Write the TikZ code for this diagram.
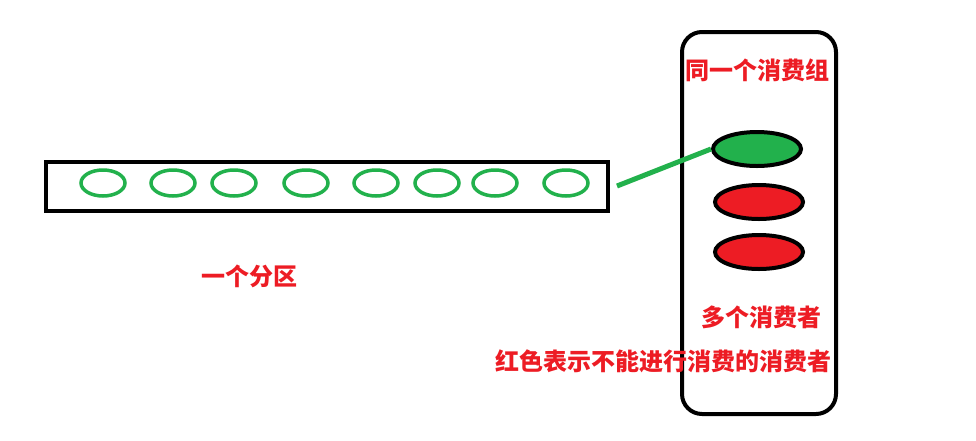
\documentclass[tikz,border=0pt]{standalone}
\usepackage{fontspec}
\newfontfamily\cjk{Noto Sans CJK SC}
\usetikzlibrary{shapes.geometric}
\definecolor{pred}{HTML}{ED1C24}
\definecolor{pgreen}{HTML}{22B14C}
\tikzset{
  msg/.style={ellipse, draw=pgreen, line width=3.5pt, minimum width=44pt, minimum height=26pt, inner sep=0pt},
  consumer/.style={ellipse, draw=black, line width=4pt, minimum width=88pt, minimum height=34pt, inner sep=0pt},
  lbl/.style={text=pred, font=\cjk\bfseries\fontsize{24pt}{26pt}\selectfont, inner sep=0pt, anchor=center}
}
\begin{document}
\begin{tikzpicture}[x=1pt,y=-1pt]
\useasboundingbox (0,0) rectangle (976,440);
\fill[white] (0,0) rectangle (976,440);
% partition
\node[draw=black, line width=4pt, minimum width=562pt, minimum height=49pt, inner sep=0pt] (part) at (327,186.5) {};
\foreach \x [count=\i] in {103,173,234,306,376,437,495,566}{
  \node[msg] (m\i) at (\x,183) {};
}
\node[lbl] (plabel) at (249,276) {一个分区};
% consumer group
\node[draw=black, line width=4pt, rounded corners=20pt, minimum width=154pt, minimum height=382pt, inner sep=0pt] (grp) at (759,223) {};
\node[lbl] (glabel) at (757,70) {同一个消费组};
\node[consumer, fill=pgreen] (c1) at (757,149) {};
\node[consumer, fill=pred] (c2) at (759,202) {};
\node[consumer, fill=pred] (c3) at (759,252) {};
\node[lbl] (clabel) at (761,317) {多个消费者};
\node[lbl] (rlabel) at (663,361) {红色表示不能进行消费的消费者};
% link
\coordinate (p) at (617,186);
\draw[pgreen, line width=5pt] (p) -- (c1.west);
\end{tikzpicture}
\end{document}
